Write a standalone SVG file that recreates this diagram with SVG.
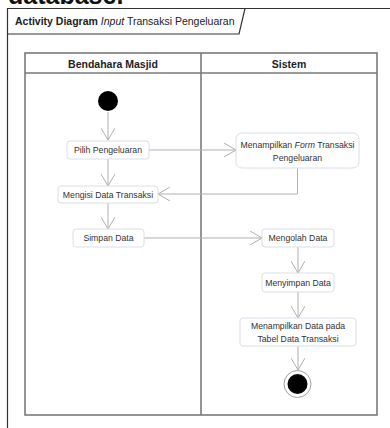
<svg xmlns="http://www.w3.org/2000/svg" width="390" height="428" viewBox="0 0 390 428">
  <style>
    .frame { fill: none; stroke: #333; stroke-width: 1.2; }
    .lane { fill: none; stroke: #7a7a7a; stroke-width: 1.6; }
    .act { fill: #fff; stroke: #d9dee7; stroke-width: 1; }
    .lbl { font-family: "Liberation Sans", Arial, sans-serif; font-size: 8.7px; fill: #333; text-anchor: middle; }
    .head { font-family: "Liberation Sans", Arial, sans-serif; font-size: 10.5px; font-weight: bold; fill: #222; text-anchor: middle; }
    .flow { fill: none; stroke: #b0b0b0; stroke-width: 1; marker-end: url(#open); }
  </style>
  <defs>
    <marker id="open" viewBox="0 0 12 14" refX="12" refY="7" markerWidth="12" markerHeight="14" markerUnits="userSpaceOnUse" orient="auto">
      <path d="M0,0 L12,7 L0,14" fill="none" stroke="#b0b0b0" stroke-width="1"/>
    </marker>
  </defs>

  <rect width="390" height="428" fill="#fff"/>

  <!-- trailing heading text from the page above -->
  <text x="8" y="4" font-family="Liberation Sans, Arial, sans-serif" font-size="25" font-weight="bold" fill="#111">database.</text>

  <!-- diagram frame with its name tab -->
  <g id="frame">
    <path class="frame" d="M7.5,428 L7.5,8.5 L390,8.5"/>
    <path class="frame" d="M7.5,34 L239,34 L245,8.5"/>
    <text x="15" y="25" font-family="Liberation Sans, Arial, sans-serif" font-size="10.5" fill="#222"><tspan font-weight="bold">Activity Diagram</tspan> <tspan font-style="italic">Input</tspan> Transaksi Pengeluaran</text>
  </g>

  <!-- swimlanes -->
  <g id="lanes">
    <rect class="lane" x="25" y="53" width="352" height="362"/>
    <line class="lane" x1="25" y1="73" x2="377" y2="73"/>
    <line class="lane" x1="201" y1="53" x2="201" y2="415"/>
    <text class="head" x="113" y="68">Bendahara Masjid</text>
    <text class="head" x="289" y="68">Sistem</text>
  </g>

  <!-- connectors -->
  <g id="connectors">
    <path class="flow" d="M108,112 L108,140"/>
    <path class="flow" d="M149,150 L236,150"/>
    <path class="flow" d="M108,159 L108,186"/>
    <path class="flow" d="M297.5,168 L297.5,194 L158,194"/>
    <path class="flow" d="M108,203 L108,229"/>
    <path class="flow" d="M144,238 L262,238"/>
    <path class="flow" d="M298,247 L298,273"/>
    <path class="flow" d="M298,292 L298,318"/>
    <path class="flow" d="M298,346 L298,370"/>
  </g>

  <g id="start">
    <circle cx="108" cy="101" r="10" fill="#000"/>
  </g>

  <g id="pilih-pengeluaran">
    <rect class="act" x="67" y="141" width="82" height="18" rx="3"/>
    <text class="lbl" x="108" y="153">Pilih Pengeluaran</text>
  </g>

  <g id="menampilkan-form">
    <rect class="act" x="236" y="133" width="123" height="35" rx="6"/>
    <text class="lbl" x="297.5" y="147.5">Menampilkan <tspan font-style="italic">Form</tspan> Transaksi</text>
    <text class="lbl" x="297.5" y="161">Pengeluaran</text>
  </g>

  <g id="mengisi-data">
    <rect class="act" x="58" y="186" width="100" height="17" rx="3"/>
    <text class="lbl" x="108" y="197.5">Mengisi Data Transaksi</text>
  </g>

  <g id="simpan-data">
    <rect class="act" x="73" y="229" width="71" height="18" rx="3"/>
    <text class="lbl" x="108.5" y="241">Simpan Data</text>
  </g>

  <g id="mengolah-data">
    <rect class="act" x="262" y="229" width="72" height="18" rx="3"/>
    <text class="lbl" x="298" y="241">Mengolah Data</text>
  </g>

  <g id="menyimpan-data">
    <rect class="act" x="262" y="273" width="72" height="19" rx="3"/>
    <text class="lbl" x="298" y="285.5">Menyimpan Data</text>
  </g>

  <g id="menampilkan-data">
    <rect class="act" x="240" y="318" width="116" height="28" rx="3"/>
    <text class="lbl" x="298" y="329">Menampilkan Data pada</text>
    <text class="lbl" x="298" y="342">Tabel Data Transaksi</text>
  </g>

  <g id="end">
    <circle cx="297.5" cy="384" r="13.5" fill="#fff" stroke="#a0a0a0" stroke-width="1"/>
    <circle cx="297.5" cy="384" r="10" fill="#000"/>
  </g>
</svg>
